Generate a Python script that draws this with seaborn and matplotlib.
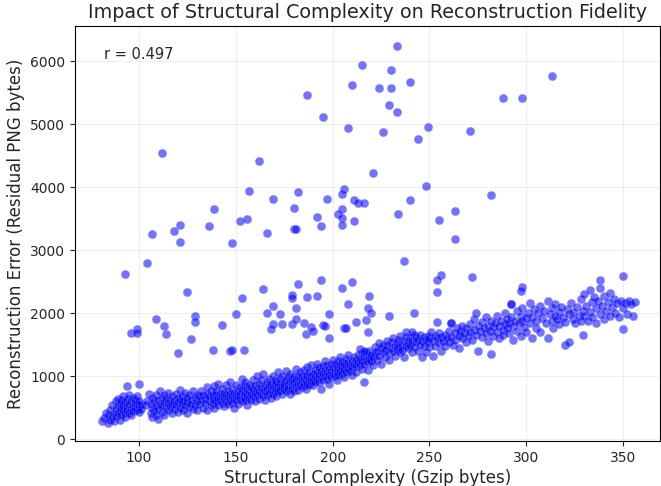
import matplotlib
matplotlib.use("Agg")
import matplotlib.pyplot as plt
import seaborn as sns
import pandas as pd

# main band of points (gzip bytes, residual png bytes)
band_a = [(81,290),(82,330),(83,420),(84,260),(84,380),(85,470),(85,300),(86,350),(86,540),(87,420),(87,280),
          (88,600),(88,480),(88,360),(89,520),(89,410),(89,640),(90,300),(90,450),(90,570),(91,380),(91,620),
          (91,500),(92,460),(92,680),(92,540),(93,410),(93,590),(93,350),(94,520),(94,640),(94,470),(95,560),
          (95,420),(95,700),(96,600),(96,480),(96,390),(97,530),(97,650),(97,450),(98,580),(98,500),(98,620),
          (99,470),(99,560),(99,680),(100,520),(100,430),(100,610),(101,560),(101,480),(94,840),(100,870)]
band_b = [(103,540),(104,610),(105,720),(106,420),(106,560),(107,350),(107,500),(107,650),(108,450),(108,600),
          (109,380),(109,700),(109,530),(110,480),(110,620),(110,320),(111,560),(111,760),(112,430),(112,650),
          (112,520),(113,590),(113,700),(113,380),(114,500),(114,640),(115,460),(115,580),(115,740),(116,620),
          (116,520),(117,410),(117,680),(117,560),(118,600),(118,480),(119,720),(119,540),(120,650),(120,430),
          (120,590),(121,500),(121,780),(121,620),(122,560),(122,690),(123,470),(123,610),(124,740),(124,540),
          (125,590),(125,660),(125,420),(126,510),(126,700),(127,620),(127,560),(128,480),(128,760),(129,650),
          (129,540),(130,600),(130,700),(130,460)]
band_c = [(131,550),(131,680),(132,620),(132,760),(133,500),(133,700),(134,640),(134,580),(135,720),(135,460),
          (135,820),(136,600),(136,680),(137,540),(137,760),(138,650),(138,700),(138,580),(139,620),(139,840),
          (139,500),(140,700),(140,600),(140,760),(141,660),(141,540),(141,880),(142,720),(142,620),(143,580),
          (143,800),(143,690),(144,640),(144,740),(144,520),(145,700),(145,610),(145,860),(146,760),(146,660),
          (146,560),(147,720),(147,620),(147,900),(148,680),(148,800),(148,580),(149,740),(149,640),(149,500),
          (150,700),(150,860),(150,620),(151,760),(151,680),(151,560),(152,820),(152,720),(152,640),(153,780),
          (153,600),(153,960),(154,700),(154,840),(154,660),(155,740),(155,620),(155,900),(156,800),(156,700),
          (156,540),(157,760),(157,860),(157,660),(158,720),(158,820),(158,620),(159,940),(159,780),(159,680),
          (160,740),(160,860),(160,600)]
band_d = [(161,800),(161,700),(161,1000),(162,760),(162,880),(162,640),(163,820),(163,720),(163,940),(164,780),
          (164,680),(164,1040),(165,860),(165,760),(165,620),(166,900),(166,800),(166,700),(167,840),(167,960),
          (167,740),(168,780),(168,880),(168,660),(169,820),(169,1000),(169,720),(170,860),(170,760),(170,940),
          (171,800),(171,900),(171,680),(172,840),(172,1060),(172,760),(173,880),(173,780),(173,960),(174,820),
          (174,720),(174,1000),(175,900),(175,800),(175,860),(176,940),(176,760),(176,1080),(177,860),(177,980),
          (177,800),(178,920),(178,720),(178,1040),(179,880),(179,960),(179,800),(180,1000),(180,900),(180,760),
          (181,940),(181,840),(181,1120),(182,880),(182,1000),(182,780),(183,960),(183,860),(183,1060),(184,900),
          (184,1000),(184,820),(185,960),(185,1100),(185,860),(186,920),(186,1020),(186,800),(187,1000),(187,880),
          (187,1140),(188,960),(188,1060),(188,860),(189,1000),(189,920),(189,1180),(190,1040),(190,940),(190,860)]
band_e = [(191,1000),(191,1100),(191,900),(192,1060),(192,960),(192,1200),(193,1020),(193,900),(193,1140),
          (194,1080),(194,980),(194,800),(195,1040),(195,1160),(195,940),(196,1100),(196,1000),(196,1240),
          (197,1060),(197,960),(197,1180),(198,1120),(198,1020),(198,880),(199,1080),(199,1200),(199,980),
          (200,1140),(200,1040),(200,1260),(201,1100),(201,1000),(201,1200),(202,1160),(202,1060),(202,940),
          (203,1120),(203,1240),(203,1020),(204,1180),(204,1080),(204,1300),(205,1140),(205,1040),(205,1220),
          (206,1200),(206,1100),(206,980),(207,1160),(207,1280),(207,1060),(208,1220),(208,1120),(208,1340),
          (209,1180),(209,1080),(210,1240),(210,1140),(210,1020),(211,1200),(211,1300),(212,1260),(212,1160),
          (212,1060),(213,1220),(213,1340),(214,1280),(214,1180),(215,1240),(215,1360),(215,1120),(216,900),
          (216,1300),(216,1200),(217,1260),(217,1380),(218,1320),(218,1220),(218,1100),(219,1280),(219,1400),
          (220,1340),(220,1240)]
band_f = [(221,1300),(221,1180),(222,1360),(222,1460),(223,1260),(223,1400),(224,1320),(224,1520),(225,1440),
          (225,1200),(226,1380),(226,1500),(227,1300),(227,1420),(228,1480),(228,1560),(229,1360),(229,1260),
          (230,1440),(230,1540),(231,1400),(231,1600),(232,1480),(232,1320),(233,1520),(233,1420),(234,1580),
          (234,1460),(235,1380),(235,1640),(236,1500),(236,1420),(237,1560),(237,1300),(238,1480),(238,1620),
          (239,1540),(239,1440),(240,1600),(240,1500),(241,1380),(241,1560),(242,1660),(242,1460),(243,1540),
          (243,1620),(244,1400),(244,1580),(245,1500),(245,1660),(246,1560),(246,1300),(247,1620),(247,1480),
          (248,1580),(248,1380),(249,1640),(249,1540),(250,1460),(250,1600),(251,1700),(252,1560),(252,1320),
          (253,1640),(253,1480),(254,1600),(255,1520),(255,1680),(256,1400),(256,1620),(257,1560),(258,1660),
          (258,1480),(259,1600),(260,1540),(260,1720)]
band_g = [(261,1840),(261,1620),(262,1500),(263,1680),(263,1580),(264,1760),(265,1640),(265,1440),(266,1720),
          (267,1600),(267,1800),(268,1680),(269,1540),(269,1760),(270,1640),(271,1820),(271,1700),(272,1580),
          (273,1740),(273,1900),(274,1660),(275,1800),(275,1400),(276,1720),(277,1620),(277,1860),(278,1760),
          (279,1680),(279,1940),(280,1560),(280,1800),(281,1720),(282,1880),(282,1350),(283,1640),(283,1780),
          (284,1840),(285,1700),(285,1960),(286,1600),(286,1800),(287,1880),(288,1740),(288,1660),(289,2000),
          (289,1820),(290,1760),(290,1900),(291,1680),(291,1840),(292,2140),(292,1940),(293,1800),(293,1580),
          (294,1880),(295,1720),(295,2040),(296,1840),(297,1960),(297,1640),(298,1880),(298,2080),(299,1780),
          (300,1920),(300,1700)]
band_h = [(301,2000),(302,1840),(302,2160),(303,1600),(303,1940),(304,2060),(305,1880),(305,1760),(306,2000),
          (307,2120),(307,1700),(308,1920),(309,2040),(310,1840),(311,1600),(311,2200),(312,1980),(313,1880),
          (313,2080),(314,1760),(315,1960),(315,2140),(316,1900),(317,2020),(317,1820),(318,2100),(319,1940),
          (320,1490),(320,1860),(321,2060),(322,1540),(322,1980),(323,2160),(324,1900),(324,2020),(325,1840),
          (326,2100),(327,1960),(328,2220),(328,1880),(329,1650),(329,2040),(330,2300),(330,1960),(331,2120),
          (332,1880),(333,2360),(333,2020),(334,2180),(334,1940),(335,2260),(336,2080),(336,1840),(337,2200),
          (338,1980),(338,2400),(339,2120),(340,1900),(340,2280),(341,2040),(342,2180),(343,2320),(343,1960),
          (344,2100),(345,2220),(346,2000),(347,2160),(348,1940),(349,2200),(350,1750),(350,2080),(351,2160),
          (352,1980),(353,2200),(354,2140),(355,1960),(356,2180)]

# the scattered points above the band
outliers = [(233,6250),(215,5940),(230,5860),(210,5620),(240,5670),(313,5760),(187,5460),(288,5410),(298,5410),
            (224,5570),(230,5570),(229,5300),(233,5190),(195,5110),(208,4940),(249,4950),(226,4870),(271,4890),
            (244,4760),(112,4540),(162,4410),(221,4220),(248,4020),(206,3970),(205,3890),(157,3940),(182,3920),
            (282,3870),(169,3810),(197,3810),(240,3800),(211,3790),(213,3750),(216,3750),(139,3650),(180,3670),
            (205,3650),(263,3620),(234,3570),(203,3570),(205,3510),(192,3520),(211,3460),(205,3400),(194,3380),
            (180,3330),(181,3340),(166,3270),(152,3460),(156,3490),(121,3400),(118,3300),(107,3250),(136,3380),
            (121,3130),(148,3110),(255,3480),(263,3170),(104,2790),(93,2620),(237,2830),(125,2330),(153,2240),
            (164,2380),(179,2290),(179,2240),(187,2250),(192,2270),(182,2460),(194,2520),(205,2400),(210,2490),
            (219,2270),(256,2600),(254,2530),(254,2330),(272,2570),(298,2410),(297,2350),(350,2590),(338,2520),
            (109,1900),(113,1790),(114,1670),(129,1950),(129,1860),(96,1680),(99,1750),(99,1690),(127,1590),
            (120,1370),(138,1410),(143,1810),(169,2110),(181,2080),(166,2000),(173,1980),(150,1980),(169,1830),
            (168,1750),(174,1830),(179,1830),(181,1900),(185,1840),(189,1780),(186,1670),(190,1710),(195,1810),
            (196,1800),(198,1980),(198,1600),(206,1760),(207,1770),(208,2140),(212,1860),(217,1890),(218,2080),
            (218,1700),(147,1400),(148,1410),(154,1410),(214,1430),(216,1400),(220,2010),(229,1950),(242,2000),
            (254,1860),(274,2010),(238,1700),(241,1700),(261,1840),(292,2140)]

r_value = 0.497

points = band_a + band_b + band_c + band_d + band_e + band_f + band_g + band_h + outliers
df = pd.DataFrame(points, columns=["gzip", "residual"])

sns.set_style("ticks")
plt.rcParams['font.family'] = ['DejaVu Sans']

fig, ax = plt.subplots(figsize=(6.61, 4.86), dpi=100)
fig.subplots_adjust(left=75/661, right=660/661, top=1 - 26/486, bottom=1 - 441/486)

sns.scatterplot(data=df, x="gzip", y="residual", color="blue", alpha=0.55, s=40,
                edgecolor="white", linewidth=0.2, ax=ax)
ax.set_xlim(67, 369)
ax.set_ylim(-30, 6560)
ax.grid(True, alpha=0.3)
ax.set_axisbelow(True)
for sp in ax.spines.values():
    sp.set_color("black")

ax.set_title("Impact of Structural Complexity on Reconstruction Fidelity", fontsize=13.8)
ax.set_xlabel("Structural Complexity (Gzip bytes)", fontsize=12, labelpad=3)
ax.set_ylabel("Reconstruction Error (Residual PNG bytes)", fontsize=12)
ax.tick_params(labelsize=10)
ax.text(0.05, 0.95, "r = " + str(r_value), transform=ax.transAxes, fontsize=10.5, va="top")

fig.savefig("out.png", dpi=100)
